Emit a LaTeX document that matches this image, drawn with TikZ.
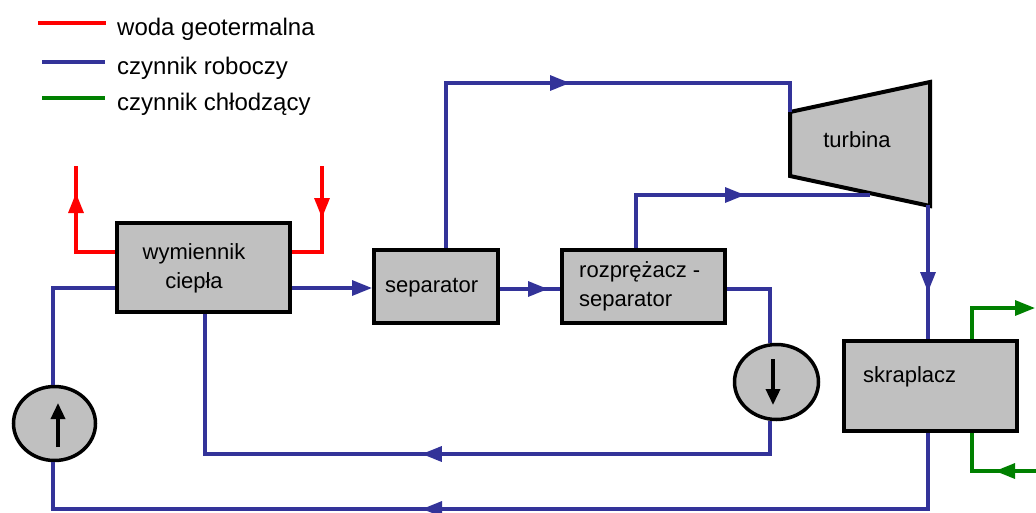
\documentclass[tikz,border=0pt]{standalone}
\usepackage{fontspec}
\setmainfont{Liberation Sans}
\usetikzlibrary{arrows.meta,decorations.markings,shapes.geometric}
\definecolor{cblue}{RGB}{51,51,153}
\definecolor{cred}{RGB}{255,0,0}
\definecolor{cgreen}{RGB}{0,128,0}
\definecolor{cfill}{RGB}{192,192,192}
\begin{document}
\begin{tikzpicture}[x=1pt,y=-1pt,
  box/.style={draw=black,line width=4pt,fill=cfill,rectangle,inner sep=0pt},
  pump/.style={draw=black,line width=3.5pt,fill=cfill,ellipse,inner sep=0pt},
  wblue/.style={cblue,line width=3.2pt},
  wred/.style={cred,line width=3.2pt},
  wgreen/.style={cgreen,line width=3.2pt},
  tip/.style={-{Triangle[length=20pt,width=15pt]}},
  arr/.style={postaction={decorate},decoration={markings,mark=at position #1 with {\arrow{Triangle[length=20pt,width=15pt]}}}},
  parr/.style={black,line width=3.5pt,-{Triangle[length=16pt,width=14pt]}},
  legtxt/.style={font=\fontsize{24}{28}\selectfont,inner sep=0pt,anchor=base west},
  btxt/.style={font=\fontsize{22}{26}\selectfont,inner sep=0pt,anchor=base west},
  ctxt/.style={font=\fontsize{22}{26}\selectfont,inner sep=0pt,anchor=base}]
\useasboundingbox (0,0) rectangle (1036,512);

% legend
\coordinate (lr1) at (38,23); \coordinate (lr2) at (106,23);
\coordinate (lb1) at (42,62); \coordinate (lb2) at (105,62);
\coordinate (lg1) at (42,98); \coordinate (lg2) at (105,98);
\draw[wred] (lr1) -- (lr2);
\draw[wblue] (lb1) -- (lb2);
\draw[wgreen] (lg1) -- (lg2);
\node[legtxt] (l1) at (117,35) {woda geotermalna};
\node[legtxt] (l2) at (117,74) {czynnik roboczy};
\node[legtxt] (l3) at (117,110) {czynnik chłodzący};

% components
\node[box,minimum width=173pt,minimum height=89pt] (hx) at (203.5,267.5) {};
\node[ctxt] (hxa) at (194,259) {wymiennik};
\node[ctxt] (hxb) at (194,288) {ciepła};

\node[box,minimum width=124pt,minimum height=73pt] (sep) at (436,286.5) {};
\node[btxt] (sept) at (385,292) {separator};

\node[box,minimum width=163pt,minimum height=73pt] (roz) at (643.5,286.5) {};
\node[btxt] (roza) at (579,277) {rozprężacz -};
\node[btxt] (rozb) at (579,306) {separator};

\node[box,minimum width=173pt,minimum height=90pt] (skr) at (930.5,386) {};
\node[btxt] (skrt) at (863,382) {skraplacz};

\coordinate (t1) at (790,112); \coordinate (t2) at (930,82);
\coordinate (t3) at (930,206); \coordinate (t4) at (790,176);
\draw[line width=4pt,fill=cfill,line join=miter] (t1) -- (t2) -- (t3) -- (t4) -- cycle;
\node[ctxt] (turt) at (857,147) {turbina};

\node[pump,minimum width=82pt,minimum height=74pt] (p1) at (54.5,423.5) {};
\node[pump,minimum width=84pt,minimum height=75pt] (p2) at (776.5,382) {};
\draw[parr] (58,447) -- (58,403);
\draw[parr] (773,359) -- (773,405);

% red flows
\coordinate (rout) at (76,166);
\coordinate (rin) at (322,166);
\draw[wred,arr=98pt] (hx.west |- 0,252) -- (rout |- 0,252) -- (rout);
\draw[wred,arr=52pt] (rin) -- (rin |- 0,252) -- (hx.east |- 0,252);

% blue flows
\draw[wblue,tip] (hx.east |- 0,288) -- (sep.west |- 0,288);
\draw[wblue,arr=48pt] (sep.east |- 0,289) -- (roz.west |- 0,289);
\draw[wblue,arr=289pt] (sep.north -| 446,0) -- (446,83) -- (t1 |- 0,83) -- (t1);
\coordinate (tb) at (870,195);
\draw[wblue,arr=162pt] (roz.north -| 636,0) -- (636,195) -- (tb);
\draw[wblue] (roz.east |- 0,289) -- (770,289) -- (p2.north -| 770,0);
\draw[wblue,arr=381pt] (p2.south -| 770,0) -- (770,454) -- (205,454) -- (hx.south -| 205,0);
\coordinate (tout) at (928,205);
\draw[wblue,arr=87pt] (tout) -- (tout |- skr.north);
\draw[wblue,arr=582pt] (skr.south -| 928,0) -- (928,509) -- (53,509) -- (p1.south -| 53,0);
\draw[wblue] (p1.north -| 53,0) -- (53,288) -- (hx.west |- 0,288);

% green flows
\coordinate (gout) at (1035,308);
\coordinate (gin) at (1036,471);
\draw[wgreen,tip] (skr.north -| 972,0) -- (972,308) -- (gout);
\draw[wgreen,arr=41pt] (gin) -- (972,471) -- (skr.south -| 972,0);
\end{tikzpicture}
\end{document}
